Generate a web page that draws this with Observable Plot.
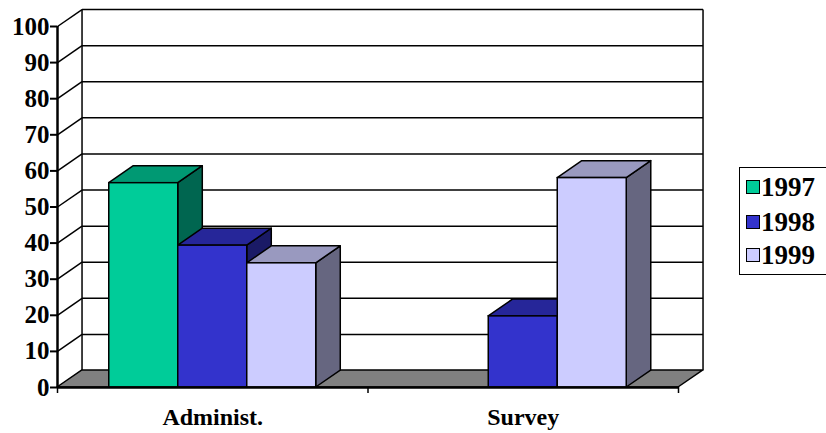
<!DOCTYPE html>
<html><head><meta charset="utf-8">
<script src="https://cdn.jsdelivr.net/npm/d3@7"></script>
<script src="https://cdn.jsdelivr.net/npm/@observablehq/plot@0.6"></script>
<style>
body{margin:0;background:#fff;}
#wrap{position:relative;width:826px;height:433px;overflow:hidden;}
#legend{position:absolute;left:739px;top:167px;width:100px;height:108px;border:1.5px solid #000;box-sizing:border-box;font-family:'Liberation Serif','Times New Roman',serif;font-weight:bold;font-size:27px;color:#000;}
.row{position:absolute;left:6px;display:flex;align-items:center;height:28px;line-height:28px;}
.sw{width:12px;height:12px;border:1px solid #000;margin-right:1px;}
</style></head><body><div id="wrap"></div>
<script>
const categories = ["Administ.", "Survey"];
const years = ["1997", "1998", "1999"];
const values1997 = [56.6, null];
const values1998 = [39.3, 19.7];
const values1999 = [34.4, 58.0];
const yTicks = [0, 10, 20, 30, 40, 50, 60, 70, 80, 90, 100];
const frontColors = ["#00CC99", "#3333CC", "#CCCCFF"];
const topColors = ["#009973", "#262699", "#9999BF"];
const sideColors = ["#006650", "#1A1A66", "#666680"];

// 3D styling constants (depth offsets in scale units) and bar width
const dX = 0.079, dY = 4.7, bw = 0.2222;
const series = [values1997, values1998, values1999];

const bars = [];
categories.forEach((c, i) => {
  series.forEach((vals, j) => {
    const v = vals[i];
    if (v == null) return;
    const x1 = i + 0.5 + (j - 1.5) * bw;
    bars.push({id: c + years[j], j, v, x1, x2: x1 + bw});
  });
});
const tops = bars.flatMap(b => [
  {id: b.id, y: b.v, x1: b.x1, x2: b.x2, c: topColors[b.j]},
  {id: b.id, y: b.v + dY, x1: b.x1 + dX, x2: b.x2 + dX, c: topColors[b.j]}
]);
const sides = bars.flatMap(b => [
  {id: b.id, x: b.x2, y1: 0, y2: b.v, c: sideColors[b.j]},
  {id: b.id, x: b.x2 + dX, y1: dY, y2: b.v + dY, c: sideColors[b.j]}
]);
const n = categories.length;
const floor = [{y: 0, x1: 0, x2: n}, {y: dY, x1: dX, x2: n + dX}];
const wallLines = yTicks.map(v => ({v}));

const lw = 1.5;
const serif = "'Liberation Serif','Times New Roman',serif";
const plot = Plot.plot({
  width: 826, height: 433,
  marginLeft: 57, marginRight: 148, marginTop: 26, marginBottom: 46,
  x: {domain: [0, n]},
  y: {domain: [0, 100]},
  color: {type: "identity"},
  style: {fontFamily: serif, fontSize: "24px", fontWeight: "bold", color: "#000", background: "#fff", overflow: "visible"},
  marks: [
    Plot.link(wallLines.filter(d => d.v > 0), {x1: dX, x2: n + dX, y1: d => d.v + dY, y2: d => d.v + dY, stroke: "#000", strokeWidth: lw}),
    Plot.link(wallLines, {x1: 0, y1: d => d.v, x2: dX, y2: d => d.v + dY, stroke: "#000", strokeWidth: lw}),
    Plot.link([dX, n + dX], {x1: d => d, x2: d => d, y1: dY, y2: 100 + dY, stroke: "#000", strokeWidth: lw}),
    Plot.areaX(floor, {y: "y", x1: "x1", x2: "x2", fill: "#808080", stroke: "#000", strokeWidth: lw}),
    Plot.areaY(sides, {x: "x", y1: "y1", y2: "y2", z: "id", fill: "c", stroke: "#000", strokeWidth: lw}),
    Plot.areaX(tops, {y: "y", x1: "x1", x2: "x2", z: "id", fill: "c", stroke: "#000", strokeWidth: lw}),
    Plot.rect(bars, {x1: "x1", x2: "x2", y1: 0, y2: "v", fill: d => frontColors[d.j], stroke: "#000", strokeWidth: lw}),
    Plot.ruleY([0], {x1: 0, x2: n, stroke: "#000", strokeWidth: 2.5}),
    Plot.ruleX([0], {y1: 0, y2: 100, stroke: "#000", strokeWidth: 2.5}),
    Plot.axisY({ticks: yTicks, tickSize: 7, tickPadding: 1, strokeWidth: 2, fontSize: 25, fontFamily: serif, fontWeight: "bold", tickFormat: d => String(d)}),
    Plot.axisX({ticks: d3.range(0, n + 1), tickSize: 6, strokeWidth: 1.5, tickFormat: () => ""}),
    Plot.axisX({ticks: categories.map((c, i) => i + 0.5), tickSize: 0, tickPadding: 20, fontSize: 24, fontFamily: serif, fontWeight: "bold", tickFormat: d => categories[Math.floor(d)]})
  ]
});
const wrap = document.getElementById("wrap");
wrap.appendChild(plot);

const legend = document.createElement("div");
legend.id = "legend";
const rowTops = [5, 40, 73];
years.forEach((y, j) => {
  const r = document.createElement("div");
  r.className = "row";
  r.style.top = rowTops[j] + "px";
  r.innerHTML = `<div class="sw" style="background:${frontColors[j]}"></div><span>${y}</span>`;
  legend.appendChild(r);
});
wrap.appendChild(legend);
</script></body></html>
